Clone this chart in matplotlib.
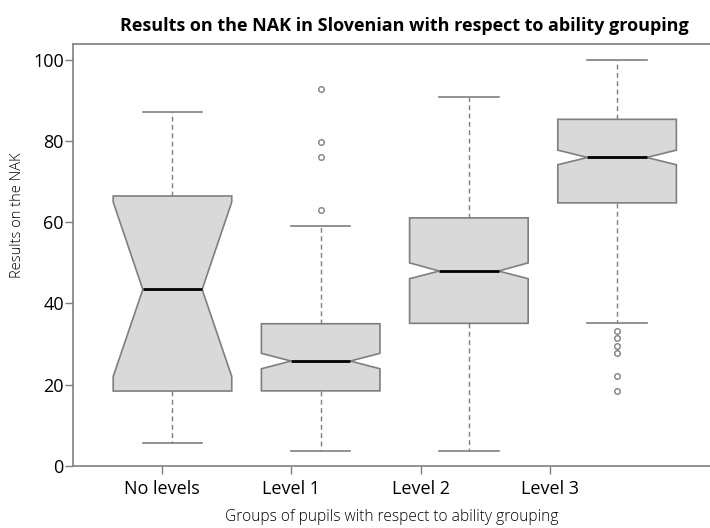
import matplotlib
matplotlib.use("Agg")
import matplotlib.pyplot as plt

groups = ["No levels", "Level 1", "Level 2", "Level 3"]
whisker_low = [5.6, 3.6, 3.6, 35.1]
q1 = [18.4, 18.45, 35.1, 64.8]
median = [43.45, 25.8, 48.0, 76.0]
q3 = [66.5, 35.0, 61.1, 85.4]
whisker_high = [87.1, 59.2, 90.9, 100.0]
notch_low = [22.0, 23.9, 46.1, 74.2]
notch_high = [65.0, 27.7, 50.0, 77.8]
outliers = [[], [63.0, 76.0, 79.8, 92.8], [], [33.2, 31.4, 29.6, 27.8, 22.2, 18.45]]

box_pos = [1, 2, 3, 4]
tick_pos = [0.93, 1.80, 2.675, 3.55]

stats = []
for i, g in enumerate(groups):
    stats.append(dict(label=g, whislo=whisker_low[i], q1=q1[i], med=median[i],
                      q3=q3[i], whishi=whisker_high[i], cilo=notch_low[i],
                      cihi=notch_high[i], fliers=outliers[i]))

grey = "#7f7f7f"
fig = plt.figure(figsize=(7.1, 5.28), dpi=100)
ax = fig.add_axes([0.1035, 0.1165, 0.8965, 0.7996])

ax.bxp(stats, positions=box_pos, widths=0.8, shownotches=True, patch_artist=True,
       boxprops=dict(facecolor="#d9d9d9", edgecolor=grey, linewidth=1.2),
       medianprops=dict(color="black", linewidth=2),
       whiskerprops=dict(color=grey, linewidth=1, linestyle=(0, (3.5, 2.5))),
       capprops=dict(color=grey, linewidth=1.2),
       flierprops=dict(marker="o", markersize=4, markerfacecolor="none",
                       markeredgecolor=grey, markeredgewidth=1))

ax.set_xlim(0.332, 4.627)
ax.set_ylim(-0.2, 103.9)
ax.set_xticks(tick_pos)
ax.set_xticklabels(groups, fontsize=13, family="Open Sans")
ax.set_yticks([0, 20, 40, 60, 80, 100])
ax.set_yticklabels(["0", "20", "40", "60", "80", "100"], fontsize=13, family="Open Sans")
ax.tick_params(colors=grey, labelcolor="black", length=6, width=1)
ax.tick_params(axis="y", pad=1)
ax.tick_params(axis="x", pad=4)
for s in ["left", "top", "bottom"]:
    ax.spines[s].set_color(grey)
    ax.spines[s].set_linewidth(1.2)
ax.spines["right"].set_visible(False)

ax.set_xlabel("Groups of pupils with respect to ability grouping", fontsize=11.2,
              family="Open Sans", fontweight="light", labelpad=8)
ax.set_ylabel("Results on the NAK", fontsize=10.5, family="Open Sans",
              fontweight="light")
ax.yaxis.set_label_coords(-0.076, 0.595)
fig.text(0.57, 0.942, "Results on the NAK in Slovenian with respect to ability grouping",
         ha="center", fontsize=13, fontweight="bold", family="Open Sans")

fig.savefig("out.png", dpi=100)
